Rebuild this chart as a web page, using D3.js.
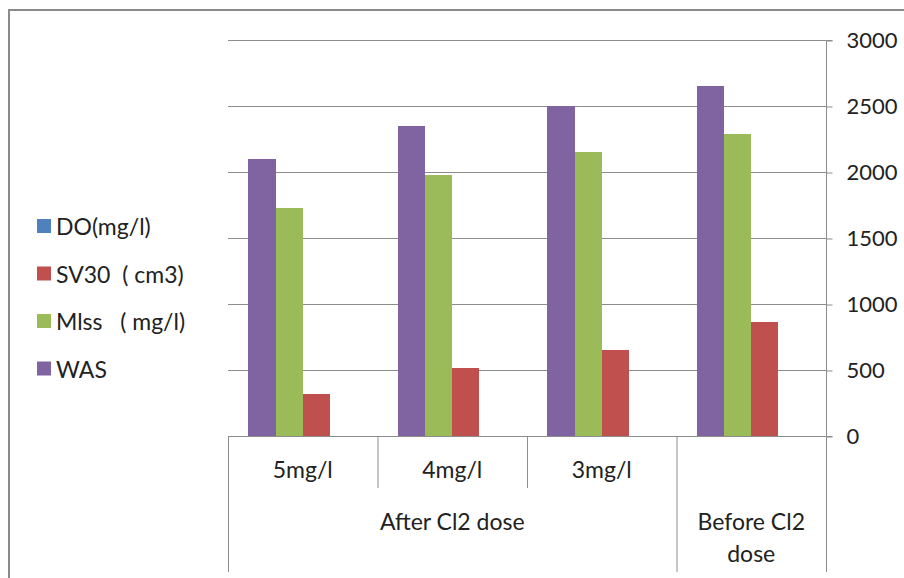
<!DOCTYPE html>
<html>
<head>
<meta charset="utf-8">
<script src="https://cdn.jsdelivr.net/npm/d3@7"></script>
<style>
  html, body { margin: 0; padding: 0; background: #fff; }
  svg { display: block; }
  text { font-family: Lato, Carlito, "Open Sans", sans-serif; fill: #222; }
</style>
</head>
<body>
<svg id="chart" width="904" height="578"></svg>
<script>
// Categories (inner level) and their outer grouping
const categories = ["5mg/l", "4mg/l", "3mg/l", "Before Cl2 dose"];
const innerLabels = ["5mg/l", "4mg/l", "3mg/l", ""];
const outerGroups = [
  { label: ["After Cl2 dose"], from: 0, to: 2 },
  { label: ["Before Cl2", "dose"], from: 3, to: 3 }
];

// Series values, in draw order within each group
const seriesNames = ["WAS", "Mlss   ( mg/l)", "SV30  ( cm3)", "DO(mg/l)"];
const wasValues  = [2100, 2350, 2500, 2650];
const mlssValues = [1730, 1975, 2150, 2290];
const sv30Values = [320, 515, 650, 860];
const doValues   = [2.1, 2.4, 2.6, 2.0];
const seriesColors = ["#8064A2", "#9BBB59", "#C0504D", "#4F81BD"];

// Legend lists the series in reverse order
const legendOrder = [3, 2, 1, 0];
const yTicks = [0, 500, 1000, 1500, 2000, 2500, 3000];

const seriesValues = [wasValues, mlssValues, sv30Values, doValues];

const FONT = 'Lato, Carlito, "Open Sans", sans-serif';
const svg = d3.select("#chart");
const plot = { left: 228, right: 826, top: 40, bottom: 436 };
const grey = "#8c8c8c";

// Outer frame
svg.append("path")
  .attr("d", "M9,590 L9,10 L920,10")
  .attr("fill", "none").attr("stroke", "#8a8a8a").attr("stroke-width", 2);

const x0 = d3.scaleBand().domain(categories).range([plot.left, plot.right]).paddingInner(0).paddingOuter(0);
const x1 = d3.scaleBand().domain(d3.range(seriesNames.length)).range([0, x0.bandwidth()])
  .paddingInner(0).paddingOuter(0.75);
const y = d3.scaleLinear().domain([0, 3000]).range([plot.bottom, plot.top]);

// Horizontal gridlines
svg.append("g").selectAll("line").data(yTicks.filter(t => t > 0)).join("line")
  .attr("x1", plot.left).attr("x2", plot.right)
  .attr("y1", d => y(d) + 0.5).attr("y2", d => y(d) + 0.5)
  .attr("stroke", grey).attr("stroke-width", 1);

// Bars
const groups = svg.append("g").selectAll("g").data(categories).join("g")
  .attr("transform", d => `translate(${x0(d)},0)`);
groups.selectAll("rect")
  .data((c, ci) => seriesValues.map((vals, si) => ({ si, v: vals[ci] })))
  .join("rect")
  .attr("x", d => x1(d.si))
  .attr("width", x1.bandwidth())
  .attr("y", d => y(d.v))
  .attr("height", d => y(0) - y(d.v))
  .attr("fill", d => seriesColors[d.si])
  .attr("shape-rendering", "crispEdges");

// Right value axis
const yAxis = d3.axisRight(y).tickValues(yTicks).tickFormat(d3.format("d")).tickSize(6).tickPadding(14);
const ya = svg.append("g").attr("transform", `translate(${plot.right + 0.5},0.5)`).call(yAxis);
ya.attr("font-family", FONT).attr("font-size", 22);
ya.select(".domain").attr("stroke", grey).attr("d", `M6,${plot.top}H0V${plot.bottom}H6`);
ya.selectAll(".tick line").attr("stroke", grey);
ya.selectAll(".tick text").attr("fill", "#222");

// Category axis: baseline plus multi-level divider lines
svg.append("line").attr("x1", plot.left).attr("x2", plot.right)
  .attr("y1", plot.bottom + 0.5).attr("y2", plot.bottom + 0.5).attr("stroke", grey);

const boundaries = d3.range(categories.length + 1);
const outerEdges = new Set([0, categories.length]);
outerGroups.forEach(g => { outerEdges.add(g.from); outerEdges.add(g.to + 1); });
svg.append("g").selectAll("line").data(boundaries).join("line")
  .attr("x1", i => (i < categories.length ? x0(categories[i]) : plot.right) + 0.5)
  .attr("x2", i => (i < categories.length ? x0(categories[i]) : plot.right) + 0.5)
  .attr("y1", plot.bottom)
  .attr("y2", i => outerEdges.has(i) ? 572 : 488)
  .attr("stroke", grey);

// Inner category labels
svg.append("g").selectAll("text").data(categories).join("text")
  .attr("x", d => x0(d) + x0.bandwidth() / 2)
  .attr("y", 478)
  .attr("text-anchor", "middle")
  .attr("font-size", 23)
  .text((d, i) => innerLabels[i]);

// Outer group labels
outerGroups.forEach(g => {
  const cx = (x0(categories[g.from]) + x0(categories[g.to]) + x0.bandwidth()) / 2;
  const t = svg.append("text").attr("text-anchor", "middle").attr("font-size", 23);
  g.label.forEach((line, li) => {
    t.append("tspan").attr("x", cx).attr("y", 530 + li * 32).text(line);
  });
});

// Legend
const legend = svg.append("g").selectAll("g").data(legendOrder).join("g")
  .attr("transform", (d, i) => `translate(37,${235 + i * 47.5})`);
legend.append("rect").attr("x", 0).attr("y", -16).attr("width", 14).attr("height", 14)
  .attr("fill", d => seriesColors[d]);
legend.append("text").attr("x", 19).attr("y", 0).attr("font-size", 23)
  .attr("xml:space", "preserve").style("white-space", "pre")
  .text(d => seriesNames[d]);
</script>
</body>
</html>
